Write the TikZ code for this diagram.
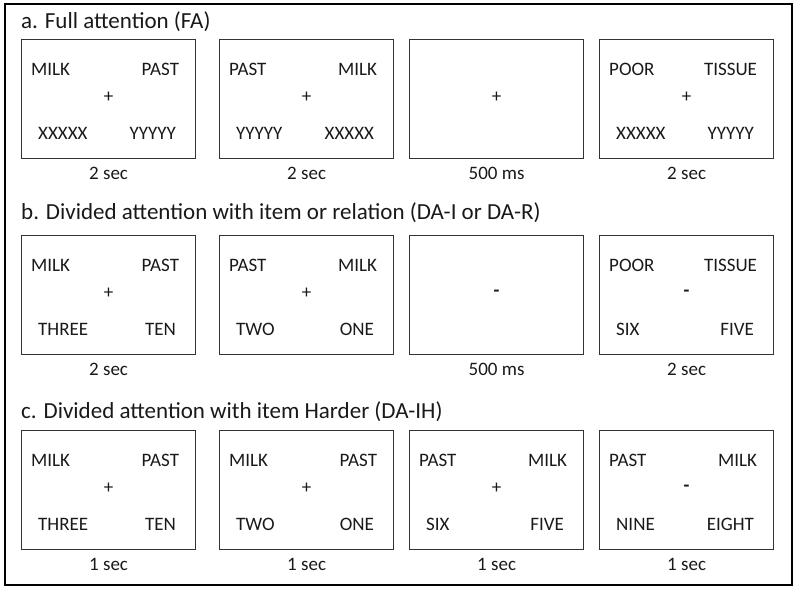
\documentclass[tikz,border=0pt]{standalone}
\usepackage{fontspec}
\setmainfont{Carlito}
\usetikzlibrary{positioning}
\newcommand{\wordfont}{\fontsize{19}{22}\selectfont}
\newcommand{\headfont}{\fontsize{23}{27}\selectfont}
\tikzset{
    % Outer frame round the whole figure
    frame/.style={draw=black, line width=2pt},
    % One screen of a trial
    screenbox/.style={
        draw=black!80, line width=1.2pt, anchor=north west,
        minimum width=174pt, minimum height=119pt, inner sep=0pt
    },
    % Texts
    word/.style={font=\wordfont, text=black!90, inner sep=0pt},
    fixation/.style={word},
    caption/.style={word},
    heading/.style={font=\headfont, text=black!90, anchor=west, inner sep=0pt},
}
% screen: name, top-left corner, four words and the fixation sign
\newcommand{\trialscreen}[7]{%
    \node[screenbox] (#1) at (#2) {};
    \node[word, anchor=west] (#1-tl) at ([shift={(10pt,-30pt)}]#1.north west) {#3};
    \node[word, anchor=east] (#1-tr) at ([shift={(-17pt,-30pt)}]#1.north east) {#4};
    \node[fixation] (#1-fix) at ([yshift=1.5pt]#1.center) {#5};
    \node[word, anchor=west] (#1-bl) at ([shift={(17pt,-94pt)}]#1.north west) {#6};
    \node[word, anchor=east] (#1-br) at ([shift={(-20pt,-94pt)}]#1.north east) {#7};
}
\begin{document}
\begin{tikzpicture}[x=1pt, y=-1pt]
    \useasboundingbox (0,0) rectangle (800,590);
    \draw[frame] (5,4) rectangle (792,585);

    % a. full attention
    \node[heading] (headA) at (21,22) {a. Full attention (FA)};
    \trialscreen{scrA1}{21,39}{MILK}{PAST}{+}{XXXXX}{YYYYY}
    \trialscreen{scrA2}{219,39}{PAST}{MILK}{+}{YYYYY}{XXXXX}
    \trialscreen{scrA3}{409,39}{}{}{+}{}{}
    \trialscreen{scrA4}{599,39}{POOR}{TISSUE}{+}{XXXXX}{YYYYY}

    % b. divided attention, item or relation
    \node[heading] (headB) at (21,213) {b. Divided attention with item or relation (DA-I or DA-R)};
    \trialscreen{scrB1}{21,235}{MILK}{PAST}{+}{THREE}{TEN}
    \trialscreen{scrB2}{219,235}{PAST}{MILK}{+}{TWO}{ONE}
    \trialscreen{scrB3}{409,235}{}{}{\textbf{-}}{}{}
    \trialscreen{scrB4}{599,235}{POOR}{TISSUE}{\textbf{-}}{SIX}{FIVE}

    % c. divided attention, item harder
    \node[heading] (headC) at (21,412) {c. Divided attention with item Harder (DA-IH)};
    \trialscreen{scrC1}{21,430}{MILK}{PAST}{+}{THREE}{TEN}
    \trialscreen{scrC2}{219,430}{MILK}{PAST}{+}{TWO}{ONE}
    \trialscreen{scrC3}{409,430}{PAST}{MILK}{+}{SIX}{FIVE}
    \trialscreen{scrC4}{599,430}{PAST}{MILK}{\textbf{-}}{NINE}{EIGHT}

    % durations
    \foreach \s/\t in {scrA1/2 sec, scrA2/2 sec, scrA3/500 ms, scrA4/2 sec,
                       scrB1/2 sec, scrB3/500 ms, scrB4/2 sec,
                       scrC1/1 sec, scrC2/1 sec, scrC3/1 sec, scrC4/1 sec}
        \node[caption] (\s-cap) at ([yshift=-14pt]\s.south) {\t};
\end{tikzpicture}
\end{document}
